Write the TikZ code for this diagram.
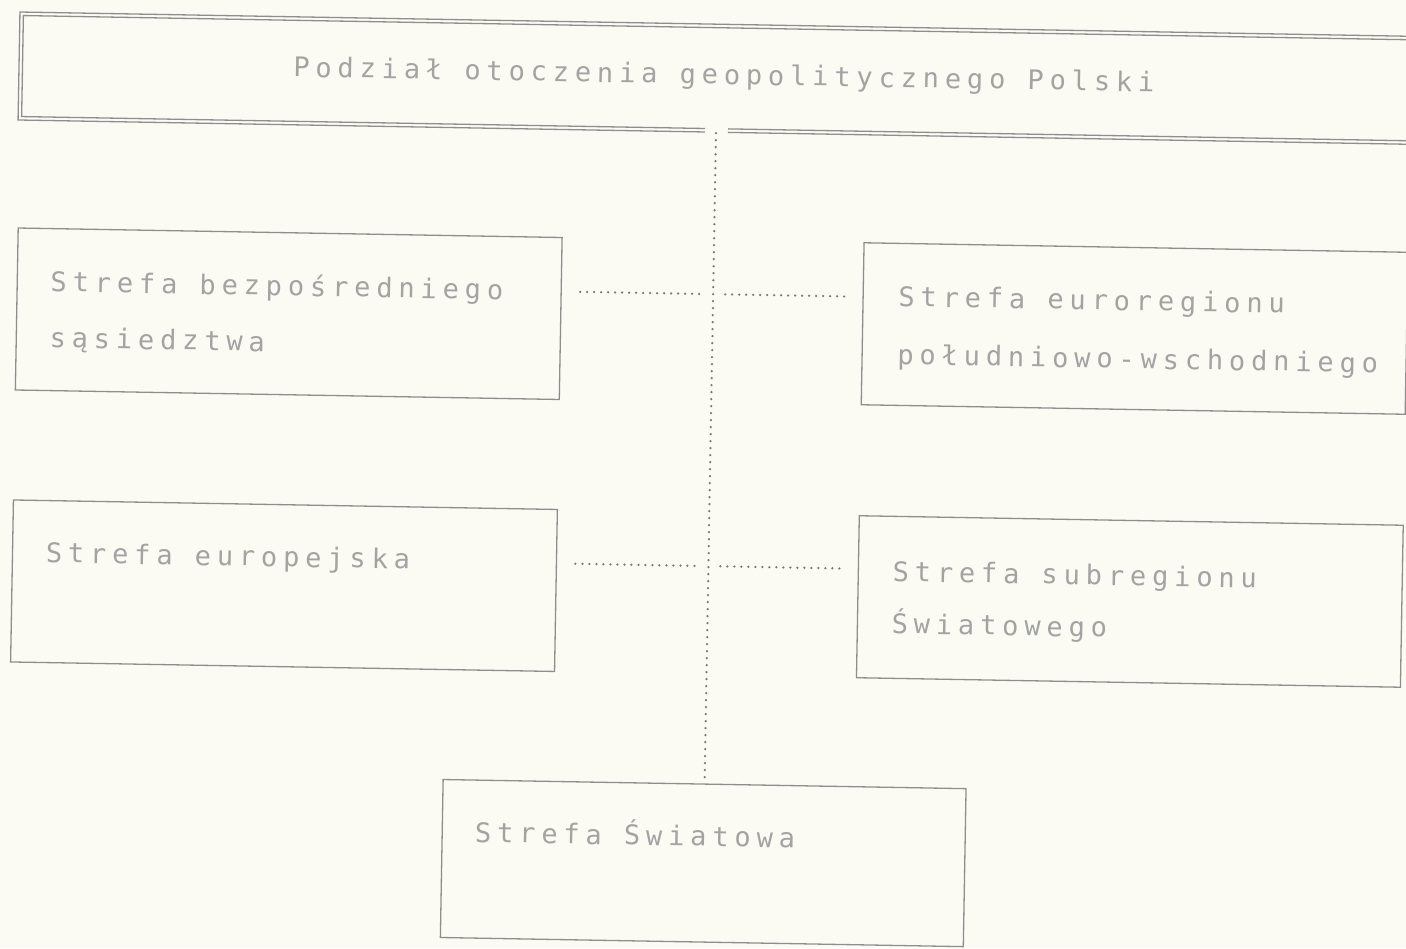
\documentclass[tikz,border=0pt]{standalone}
\usepackage{fontspec}
\newfontfamily\dotfont[LetterSpace=21.7]{DejaVu Sans Mono}
\usetikzlibrary{calc}
\definecolor{bgcol}{HTML}{FBFBF4}
\definecolor{linecol}{HTML}{8E8E8E}
\definecolor{txtcol}{HTML}{A3A3A3}
\definecolor{dotcol}{HTML}{777777}
\tikzset{
  zonebox/.style={draw=linecol, line width=0.65pt, rectangle, outer sep=0pt, inner sep=0pt,
    minimum width=272pt, minimum height=81pt, transform shape},
  zonetext/.style={text=txtcol, font=\dotfont\fontsize{13.5pt}{15pt}\selectfont,
    anchor=base west, inner sep=0pt, transform shape},
  frameline/.style={draw=linecol, line width=0.65pt},
  conn/.style={draw=dotcol, line width=1.25pt, line cap=round, dash pattern=on 0pt off 3.5pt},
}
\begin{document}
\begin{tikzpicture}[x=0.5pt,y=-0.5pt]
\useasboundingbox (0,0) rectangle (1406,948);
\fill[bgcol] (0,0) rectangle (1406,948);
\clip (0,0) rectangle (1406,948);
\begin{scope}[rotate around={-1:(703,474)}]
  % title frame (double line, open at the right, gap below for the connector)
  \node[zonetext] (title) at (286,84) {Podział otoczenia geopolitycznego Polski};
  \draw[frameline] (1440,24) -- (12,24) -- (12,132) -- (699,132);
  \draw[frameline] (722,132) -- (1440,132);
  \draw[frameline] (1440,27.5) -- (15.5,27.5) -- (15.5,128.5) -- (699,128.5);
  \draw[frameline] (722,128.5) -- (1440,128.5);
  % zone boxes
  \node[zonebox] (z1) at (286,321) {};
  \node[zonebox] (z2) at (1132,321) {};
  \node[zonebox] (z3) at (286,593) {};
  \node[zonebox] (z4) at (1132,594) {};
  \node[zonebox, minimum width=261.5pt, minimum height=79pt] (z5) at (710,863) {};
  % texts
  \node[zonetext] (t1a) at (47,303) {Strefa bezpośredniego};
  \node[zonetext] (t1b) at (47,359) {sąsiedztwa};
  \node[zonetext] (t2a) at (895,303) {Strefa euroregionu};
  \node[zonetext] (t2b) at (895,361) {południowo-wschodniego};
  \node[zonetext] (t3) at (47,574) {Strefa europejska};
  \node[zonetext] (t4a) at (894,578) {Strefa subregionu};
  \node[zonetext] (t4b) at (894,630) {Światowego};
  \node[zonetext] (t5) at (481,846) {Strefa Światowa};
  % connectors
  \coordinate (v1) at (710,133);
  \draw[conn] (v1) -- (z5.north);
  \coordinate (a1) at (577,294);
  \coordinate (a2) at (697,294);
  \coordinate (b1) at (722,294);
  \coordinate (b2) at (842,294);
  \coordinate (c1) at (577,566);
  \coordinate (c2) at (697,566);
  \coordinate (d1) at (722,566);
  \coordinate (d2) at (842,566);
  \draw[conn] (a1) -- (a2);
  \draw[conn] (b1) -- (b2);
  \draw[conn] (c1) -- (c2);
  \draw[conn] (d1) -- (d2);
\end{scope}
\end{tikzpicture}
\end{document}
